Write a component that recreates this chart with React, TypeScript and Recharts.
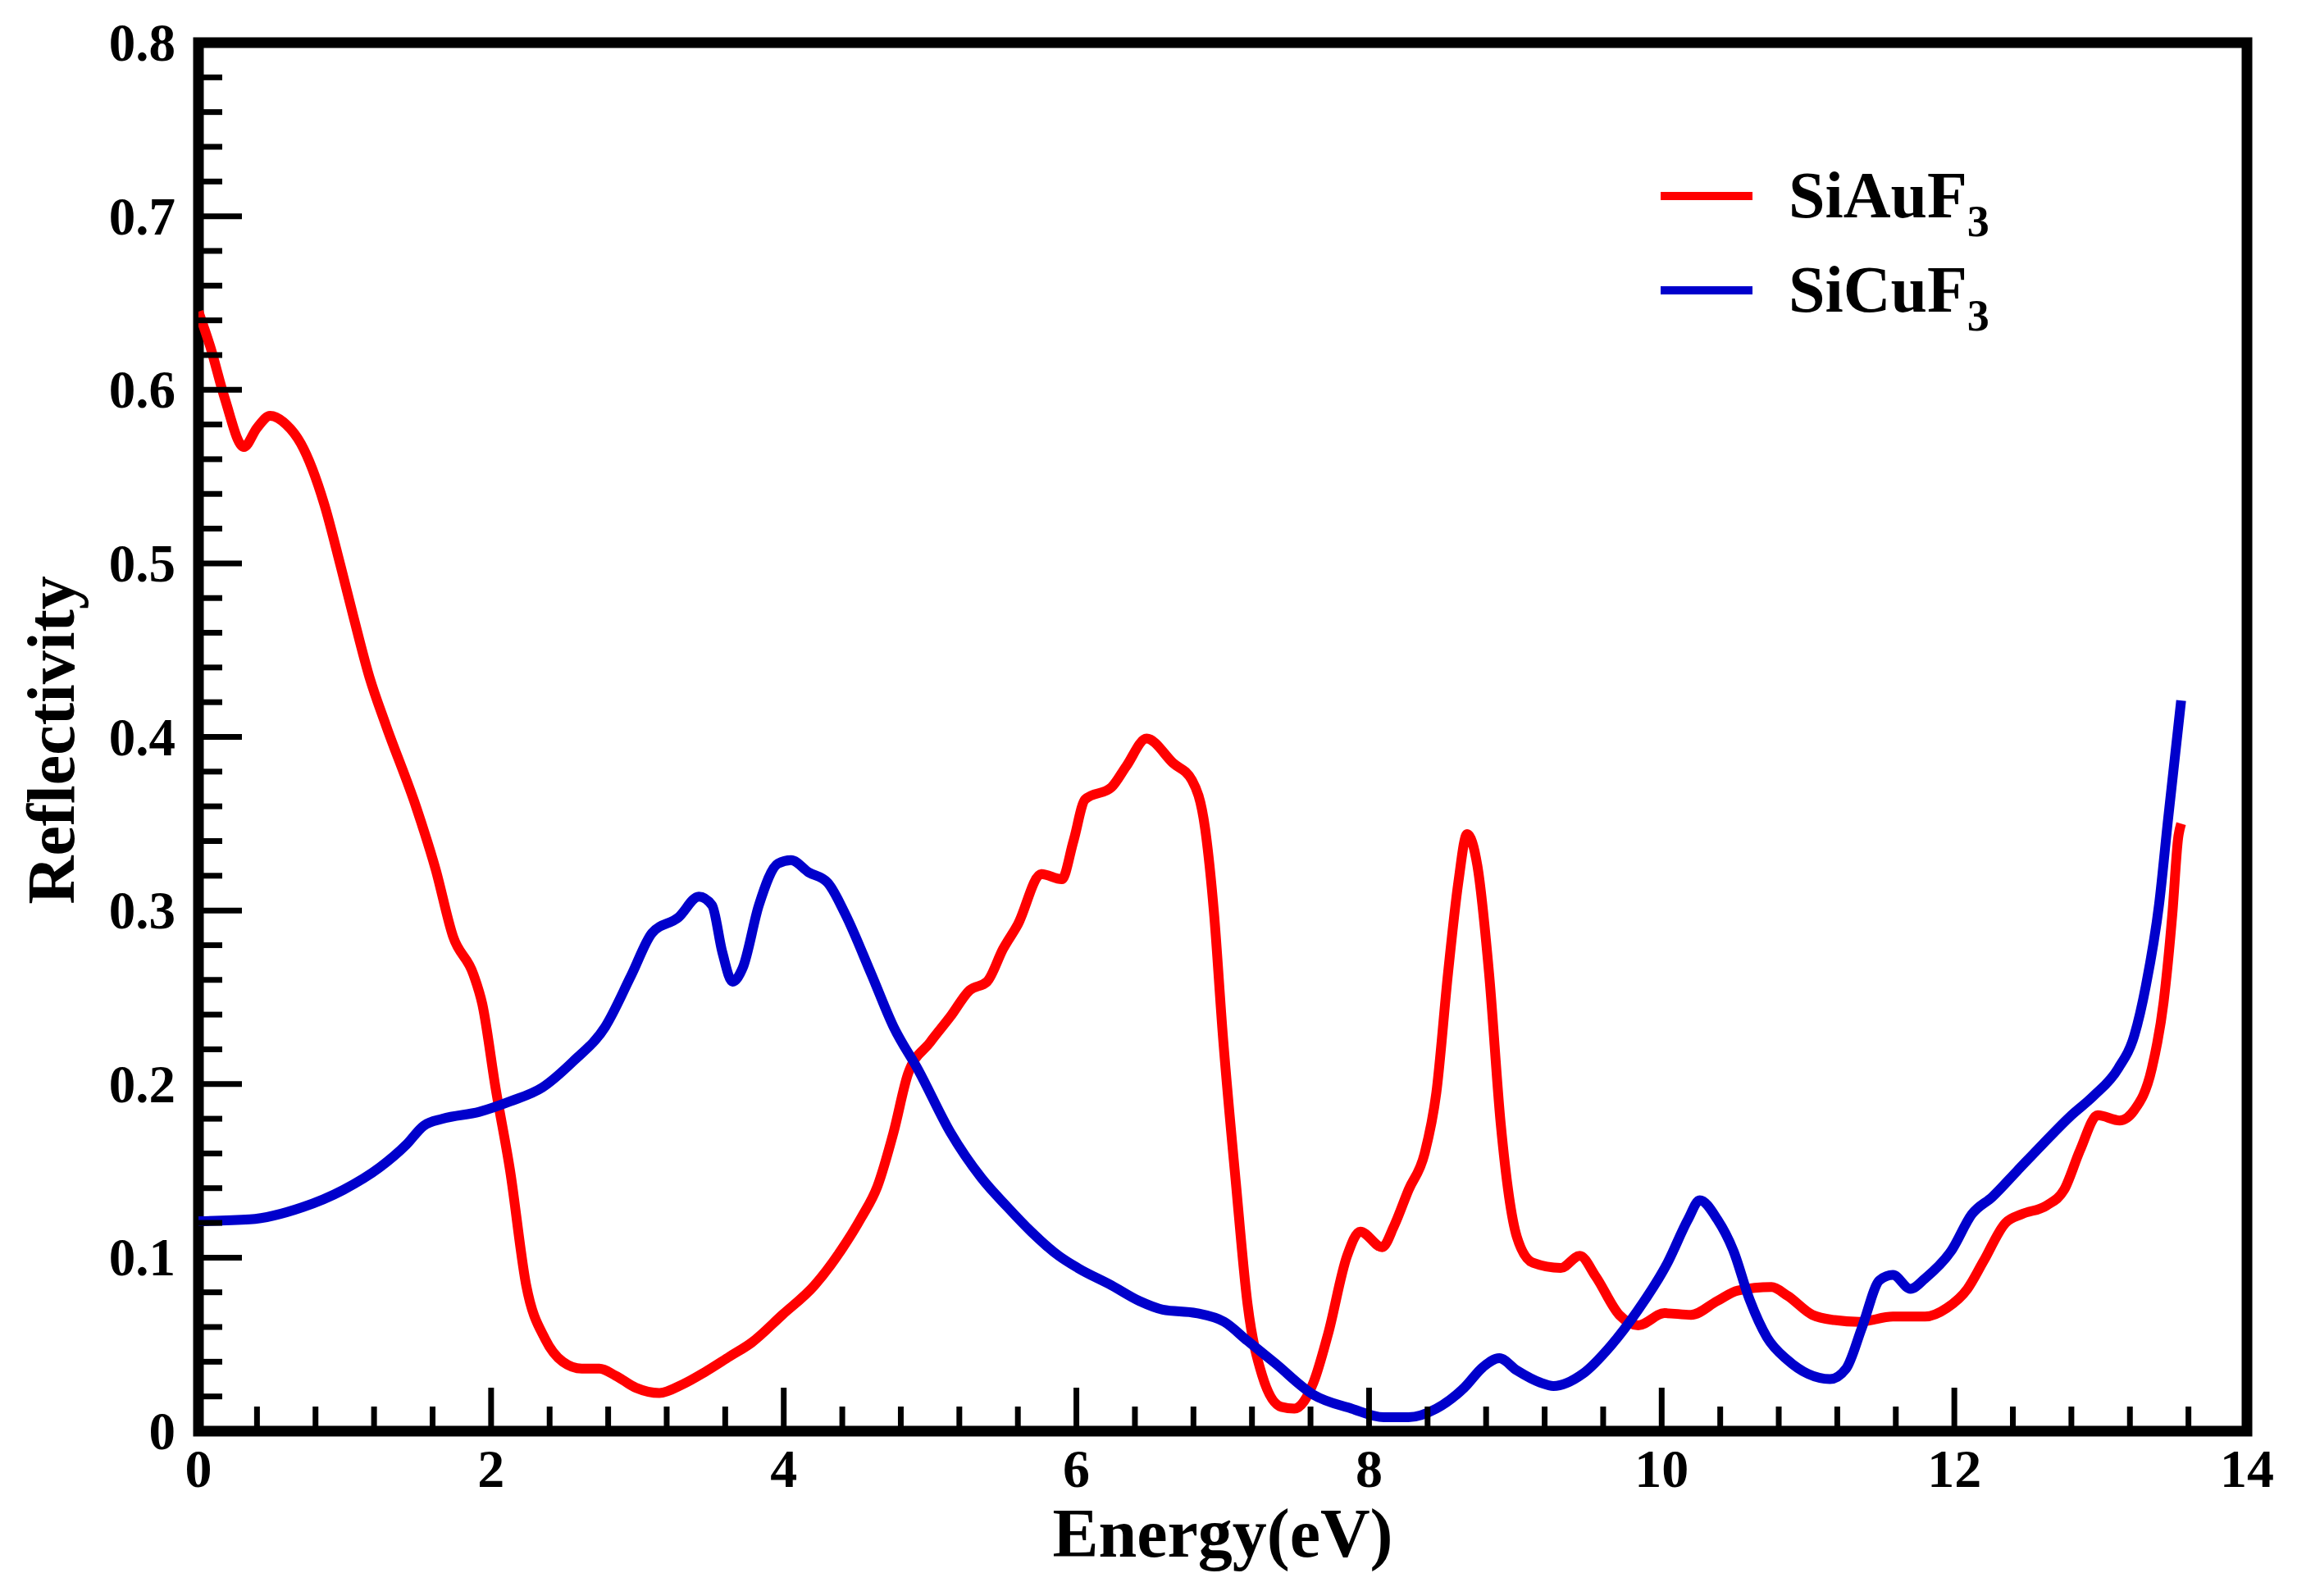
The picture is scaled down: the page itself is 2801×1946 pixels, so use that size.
import React from "react";
import { LineChart, Line, XAxis, YAxis, ReferenceArea } from "recharts";

// ---------- data ----------
const AU_ENERGY = [
  0.0, 0.08, 0.18, 0.31, 0.4, 0.49, 0.6, 0.7, 0.86, 0.97, 1.06, 1.17, 1.28, 1.49, 1.62, 1.74, 1.88, 1.94,
  2.03, 2.13, 2.24, 2.37, 2.49, 2.62, 2.74, 2.85, 2.99, 3.15, 3.31, 3.46, 3.63, 3.78, 3.99, 4.21, 4.39,
  4.53, 4.64, 4.75, 4.85, 5.0, 5.14, 5.27, 5.39, 5.5, 5.6, 5.76, 5.9, 5.98, 6.06, 6.24, 6.34, 6.48, 6.66,
  6.79, 6.88, 6.94, 7.0, 7.09, 7.17, 7.27, 7.4, 7.49, 7.62, 7.72, 7.85, 7.94, 8.09, 8.17, 8.27, 8.38,
  8.46, 8.54, 8.61, 8.67, 8.74, 8.82, 8.9, 9.01, 9.12, 9.31, 9.44, 9.55, 9.71, 9.84, 10.02, 10.2, 10.38,
  10.52, 10.75, 10.86, 11.03, 11.18, 11.35, 11.58, 11.8, 11.95, 12.09, 12.2, 12.35, 12.46, 12.63, 12.75,
  12.86, 12.98, 13.13, 13.23, 13.35, 13.43, 13.49, 13.53, 13.55,
];
const AU_REFL = [
  0.645, 0.625, 0.595, 0.567, 0.578, 0.585, 0.58, 0.569, 0.534, 0.499, 0.469, 0.434, 0.407, 0.359, 0.324,
  0.285, 0.263, 0.246, 0.198, 0.15, 0.084, 0.053, 0.04, 0.036, 0.036, 0.032, 0.025, 0.022, 0.027, 0.034,
  0.043, 0.051, 0.067, 0.084, 0.104, 0.123, 0.141, 0.172, 0.206, 0.224, 0.239, 0.254, 0.259, 0.278, 0.292,
  0.321, 0.318, 0.34, 0.364, 0.371, 0.383, 0.399, 0.385, 0.375, 0.347, 0.299, 0.229, 0.143, 0.073, 0.032,
  0.014, 0.013, 0.028, 0.056, 0.101, 0.115, 0.106, 0.118, 0.139, 0.16, 0.195, 0.264, 0.316, 0.344, 0.326,
  0.264, 0.177, 0.112, 0.097, 0.094, 0.101, 0.089, 0.067, 0.061, 0.068, 0.067, 0.075, 0.081, 0.083, 0.078,
  0.067, 0.064, 0.063, 0.066, 0.066, 0.071, 0.082, 0.098, 0.12, 0.125, 0.13, 0.139, 0.162, 0.182, 0.179,
  0.185, 0.209, 0.247, 0.298, 0.342, 0.35,
];

const CU_ENERGY = [
  0.0, 0.35, 0.71, 0.99, 1.24, 1.42, 1.54, 1.67, 1.92, 2.13, 2.35, 2.56, 2.78, 2.96, 3.1, 3.28, 3.42, 3.51,
  3.58, 3.65, 3.72, 3.83, 3.96, 4.05, 4.17, 4.3, 4.42, 4.6, 4.75, 4.92, 5.14, 5.35, 5.53, 5.69, 5.88, 6.01,
  6.24, 6.43, 6.59, 6.82, 7.01, 7.17, 7.36, 7.62, 7.88, 8.1, 8.27, 8.46, 8.65, 8.78, 8.89, 9.01, 9.17, 9.26,
  9.46, 9.65, 9.84, 10.04, 10.18, 10.26, 10.38, 10.49, 10.6, 10.72, 10.86, 11.0, 11.15, 11.26, 11.37, 11.49,
  11.58, 11.7, 11.8, 11.98, 12.12, 12.26, 12.43, 12.6, 12.8, 12.95, 13.12, 13.23, 13.31, 13.4, 13.46, 13.55,
];
const CU_REFL = [
  0.121, 0.122, 0.129, 0.139, 0.152, 0.165, 0.176, 0.18, 0.184, 0.19, 0.198, 0.213, 0.233, 0.263, 0.287,
  0.296, 0.308, 0.303, 0.276, 0.259, 0.267, 0.303, 0.327, 0.329, 0.322, 0.316, 0.298, 0.263, 0.233, 0.208,
  0.172, 0.146, 0.129, 0.115, 0.101, 0.094, 0.084, 0.075, 0.07, 0.068, 0.063, 0.052, 0.039, 0.021, 0.013,
  0.008, 0.008, 0.013, 0.025, 0.037, 0.042, 0.035, 0.028, 0.026, 0.033, 0.049, 0.07, 0.097, 0.122, 0.133,
  0.122, 0.104, 0.076, 0.054, 0.041, 0.033, 0.03, 0.036, 0.06, 0.087, 0.09, 0.082, 0.088, 0.104, 0.125,
  0.135, 0.15, 0.165, 0.182, 0.193, 0.209, 0.228, 0.257, 0.304, 0.352, 0.421,
];

const X_MAJOR = [0, 2, 4, 6, 8, 10, 12, 14];
const X_MINOR_STEP = 0.4;
const Y_MAJOR = [0, 0.1, 0.2, 0.3, 0.4, 0.5, 0.6, 0.7, 0.8];
const Y_MINOR_STEP = 0.02;

const SERIES = [
  { name: "SiAuF", sub: "3", color: "#ff0000", energy: AU_ENERGY, refl: AU_REFL },
  { name: "SiCuF", sub: "3", color: "#0000cc", energy: CU_ENERGY, refl: CU_REFL },
];

// ---------- derived ----------
const X_TICKS: number[] = [];
for (let i = 0; i <= Math.round(14 / X_MINOR_STEP); i++) X_TICKS.push(Number((i * X_MINOR_STEP).toFixed(2)));
const Y_TICKS: number[] = [];
for (let i = 0; i <= Math.round(0.8 / Y_MINOR_STEP); i++) Y_TICKS.push(Number((i * Y_MINOR_STEP).toFixed(2)));

const isMajor = (v: number, majors: number[]) => majors.some((m) => Math.abs(m - v) < 1e-6);

const FONT = "'Liberation Serif', 'Times New Roman', serif";
const TICK_W = 7;

const XTick = (props: any) => {
  const { x, y, payload } = props;
  const v = payload.value;
  const major = isMajor(v, X_MAJOR);
  return (
    <g>
      <line x1={x} x2={x} y1={y} y2={y - (major ? 53 : 30)} stroke="#000" strokeWidth={TICK_W} />
      {major && (
        <text x={x} y={y + 68} textAnchor="middle" fontFamily={FONT} fontWeight="bold" fontSize={66} fill="#000">
          {String(v)}
        </text>
      )}
    </g>
  );
};

const YTick = (props: any) => {
  const { x, y, payload } = props;
  const v = payload.value;
  const major = isMajor(v, Y_MAJOR);
  return (
    <g>
      <line x1={x} x2={x + (major ? 53 : 29)} y1={y} y2={y} stroke="#000" strokeWidth={TICK_W} />
      {major && (
        <text x={x - 28} y={y + 22} textAnchor="end" fontFamily={FONT} fontWeight="bold" fontSize={65} fill="#000">
          {v === 0 ? "0" : v.toFixed(1)}
        </text>
      )}
    </g>
  );
};

const XTitle = (props: any) => {
  const vb = props.viewBox || {};
  return (
    <text x={vb.x + vb.width / 2} y={vb.y + 153} textAnchor="middle" fontFamily={FONT} fontWeight="bold" fontSize={84} fill="#000">
      Energy(eV)
    </text>
  );
};

const YTitle = (props: any) => {
  const vb = props.viewBox || {};
  const cx = 90;
  const cy = vb.y + vb.height / 2 + 4;
  return (
    <text x={cx} y={cy} transform={`rotate(-90 ${cx} ${cy})`} textAnchor="middle" fontFamily={FONT} fontWeight="bold" fontSize={82} fill="#000">
      Reflectivity
    </text>
  );
};

const LegendBox = () => (
  <svg width={520} height={260} style={{ position: "absolute", left: 2000, top: 170, overflow: "visible" }}>
    {SERIES.map((s, i) => {
      const cy = 69 + i * 115;
      return (
        <g key={s.name}>
          <line x1={25} x2={137} y1={cy} y2={cy} stroke={s.color} strokeWidth={10} />
          <text x={181} y={cy + 26} fontFamily={FONT} fontWeight="bold" fontSize={80} fill="#000">
            {s.name}
            <tspan fontSize={54} dy={23}>
              {s.sub}
            </tspan>
          </text>
        </g>
      );
    })}
  </svg>
);

export default function App() {
  return (
    <div style={{ position: "absolute", left: 0, top: 0, width: 2801, height: 1946, background: "#fff" }}>
      <LineChart width={2801} height={1946} margin={{ top: 52, right: 61, bottom: 0, left: 0 }}>
        <XAxis
          type="number"
          dataKey="e"
          domain={[0, 14]}
          ticks={X_TICKS}
          interval={0}
          tickSize={0}
          tickMargin={0}
          axisLine={false}
          tickLine={false}
          tick={<XTick />}
          height={201}
          allowDataOverflow
          label={<XTitle />}
        />
        <YAxis
          type="number"
          domain={[0, 0.8]}
          ticks={Y_TICKS}
          interval={0}
          tickSize={0}
          tickMargin={0}
          axisLine={false}
          tickLine={false}
          tick={<YTick />}
          width={242}
          allowDataOverflow
          label={<YTitle />}
        />
        {SERIES.map((s) => (
          <Line
            key={s.name}
            data={s.energy.map((e, i) => ({ e, r: s.refl[i] }))}
            dataKey="r"
            type="monotone"
            stroke={s.color}
            strokeWidth={12}
            dot={false}
            activeDot={false}
            isAnimationActive={false}
            strokeLinejoin="round"
          />
        ))}
        <ReferenceArea x1={0} x2={14} y1={0} y2={0.8} fill="none" stroke="#000" strokeWidth={13} ifOverflow="visible" />
      </LineChart>
      <LegendBox />
    </div>
  );
}
